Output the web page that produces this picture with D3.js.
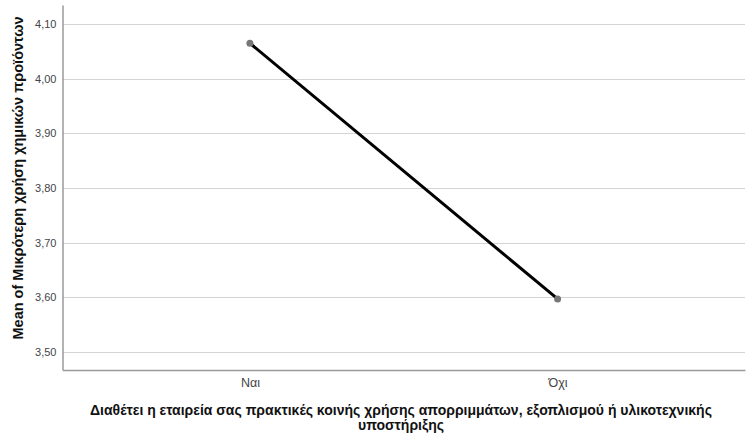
<!DOCTYPE html>
<html><head><meta charset="utf-8">
<script src="https://cdn.jsdelivr.net/npm/d3@7"></script>
<style>body{margin:0;background:#fff}svg{display:block}text{font-family:"Liberation Sans",Arial,sans-serif}</style>
</head><body>
<svg id="c" width="752" height="438"></svg>
<script>
const categories = ["Ναι", "Όχι"];
const meanValues = [4.065, 3.597];
const yTicks = [3.5, 3.6, 3.7, 3.8, 3.9, 4.0, 4.1];
const yTitle = "Mean of Μικρότερη χρήση χημικών προϊόντων";
const xTitleLines = ["Διαθέτει η εταιρεία σας πρακτικές κοινής χρήσης απορριμμάτων, εξοπλισμού ή υλικοτεχνικής", "υποστήριξης"];

const svg = d3.select("#c");
const L = 62.5, R = 745, T = 5, B = 370;
const x = d3.scalePoint().domain(categories).range([L, R]).padding(0.609);
const y = d3.scaleLinear().domain([3.467, 4.135]).range([B, T]);
const fmt = v => d3.format(".2f")(v).replace(".", ",");

// gridlines
svg.append("g").selectAll("line").data(yTicks).join("line")
  .attr("x1", L).attr("x2", R)
  .attr("y1", d => Math.round(y(d)) + 0.5).attr("y2", d => Math.round(y(d)) + 0.5)
  .attr("stroke", "#d4d4d4").attr("stroke-width", 1);

// y axis
const ya = svg.append("g").attr("transform", `translate(${L},0)`)
  .call(d3.axisLeft(y).tickValues(yTicks).tickFormat(fmt).tickSize(0).tickPadding(6));
ya.select(".domain").attr("stroke", "#9a9a9a").attr("stroke-width", 1.5);
ya.selectAll("text").attr("font-size", 11).attr("fill", "#444").attr("font-family", "Liberation Sans, Arial, sans-serif");

// x axis
const xa = svg.append("g").attr("transform", `translate(0,${B})`)
  .call(d3.axisBottom(x).tickSize(0).tickPadding(8));
xa.select(".domain").attr("stroke", "#9a9a9a").attr("stroke-width", 1.5);
xa.selectAll("text").attr("font-size", 12.5).attr("fill", "#444").attr("font-family", "Liberation Sans, Arial, sans-serif");

// line
const pts = categories.map((c, i) => [x(c), y(meanValues[i])]);
svg.append("path").attr("d", d3.line()(pts))
  .attr("fill", "none").attr("stroke", "#000").attr("stroke-width", 3);
svg.append("g").selectAll("circle").data(pts).join("circle")
  .attr("cx", d => d[0]).attr("cy", d => d[1]).attr("r", 3.5).attr("fill", "#777");

// titles
svg.append("text").attr("transform", `translate(23,178) rotate(-90)`)
  .attr("text-anchor", "middle").attr("font-size", 14.5).attr("font-weight", "bold").attr("fill", "#111")
  .text(yTitle);
svg.append("g").selectAll("text").data(xTitleLines).join("text")
  .attr("x", 401).attr("y", (d, i) => 415 + i * 15)
  .attr("text-anchor", "middle").attr("font-size", 14).attr("font-weight", "bold").attr("fill", "#111")
  .text(d => d);
</script>
</body></html>
